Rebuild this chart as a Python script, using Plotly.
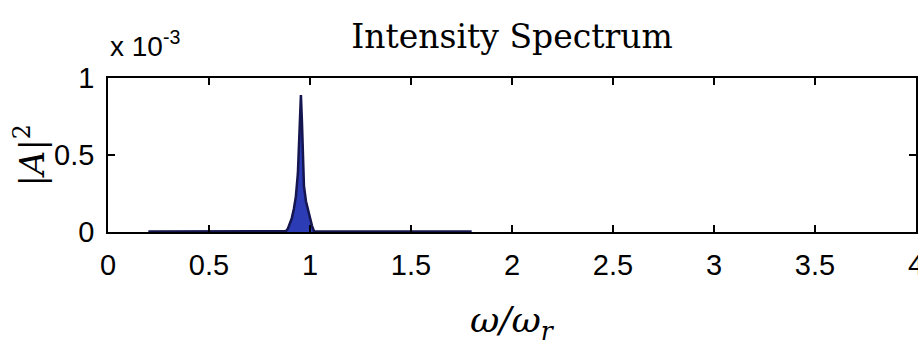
import plotly.graph_objects as go

# Data (|A|^2 in units of 1e-3)
omega = [0.20, 0.88, 0.89, 0.90, 0.91, 0.92, 0.93, 0.94, 0.95, 0.955, 0.96, 0.97,
         0.98, 0.99, 1.00, 1.01, 1.02, 1.80]
intensity_e3 = [0.004, 0.005, 0.02, 0.05, 0.09, 0.15, 0.23, 0.38, 0.80, 0.89, 0.72, 0.30,
                0.20, 0.14, 0.09, 0.04, 0.005, 0.004]

x_tickvals = [0, 0.5, 1, 1.5, 2, 2.5, 3, 3.5, 4]
x_ticktext = ["0", "0.5", "1", "1.5", "2", "2.5", "3", "3.5", "4"]
y_tickvals = [0, 0.5, 1]
y_ticktext = ["0", "0.5", "1"]

tick_font = dict(family="Liberation Sans, Arial, sans-serif", size=29, color="black")

fig = go.Figure()
fig.add_trace(go.Scatter(
    x=omega, y=intensity_e3, mode="lines", fill="tozeroy",
    fillcolor="#2b3cb4", line=dict(color="#15154f", width=2.5),
    showlegend=False, hoverinfo="skip"))

axis_common = dict(showline=True, linecolor="black", linewidth=1.5, mirror="ticks",
                   ticks="inside", ticklen=7, tickwidth=1.5, tickcolor="black",
                   showgrid=False, zeroline=False, tickfont=tick_font, automargin=False,
                   ticklabeloverflow="allow")

fig.update_xaxes(range=[0, 4], tickmode="array", tickvals=x_tickvals, ticktext=x_ticktext,
                 ticklabelstandoff=6, **axis_common)
fig.update_yaxes(range=[0, 1], tickmode="array", tickvals=y_tickvals, ticktext=y_ticktext,
                 ticklabelstandoff=6, **axis_common)

fig.update_layout(
    width=918, height=350,
    margin=dict(l=108, r=2, t=78, b=118),
    paper_bgcolor="white", plot_bgcolor="white",
    title=dict(text="Intensity Spectrum", x=0.5, xref="paper", xanchor="center",
               y=0.895, yanchor="middle",
               font=dict(family="DejaVu Serif, Liberation Serif, serif", size=33, color="black")),
    annotations=[
        dict(text="x 10<sup>-3</sup>", xref="paper", yref="paper", x=0.0, y=1.09,
             xanchor="left", yanchor="bottom", showarrow=False,
             font=dict(family="Liberation Sans, Arial, sans-serif", size=28, color="black")),
        dict(text="<i>|A|</i><sup>2</sup>", xref="paper", yref="paper", x=-0.097, y=0.5,
             xanchor="center", yanchor="middle", textangle=-90, showarrow=False,
             font=dict(family="DejaVu Serif, Liberation Serif, serif", size=34, color="black")),
        dict(text="<i>ω/ω<sub>r</sub></i>", xref="paper", yref="paper", x=0.5, y=-0.59,
             xanchor="center", yanchor="middle", showarrow=False,
             font=dict(family="DejaVu Serif, Liberation Serif, serif", size=36, color="black")),
    ],
)

fig.write_html("out.html")
